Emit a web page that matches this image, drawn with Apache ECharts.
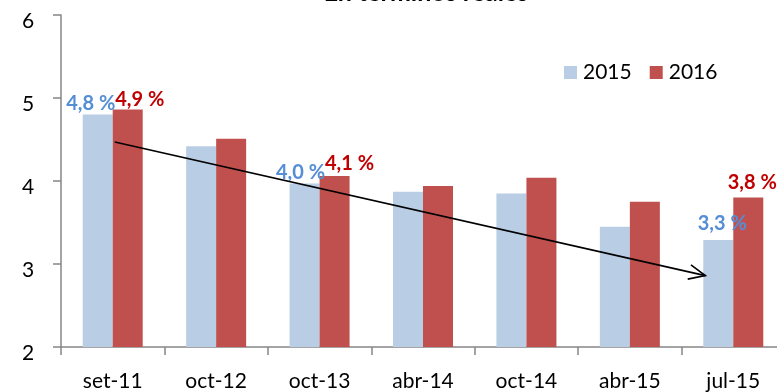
<!DOCTYPE html>
<html>
<head>
<meta charset="utf-8">
<script src="https://cdn.jsdelivr.net/npm/echarts@6/dist/echarts.min.js"></script>
<style>
  html, body { margin: 0; padding: 0; background: #fff; overflow: hidden; }
  #chart { width: 777px; height: 392px; }
</style>
</head>
<body>
<div id="chart"></div>
<script>
// Period categories and yearly values (%)
const categories = ['set-11', 'oct-12', 'oct-13', 'abr-14', 'oct-14', 'abr-15', 'jul-15'];
const values2015 = [4.80, 4.42, 3.97, 3.87, 3.85, 3.45, 3.29];
const values2016 = [4.86, 4.51, 4.06, 3.94, 4.04, 3.75, 3.80];
const seriesNames = ['2015', '2016'];
const yTicks = [2, 3, 4, 5, 6];

// Trend arrow endpoints: [position along the category band, value]
const arrowStart = [0.52, 4.47];
const arrowEnd = [6.23, 2.86];

// Which bars carry a value label, and how each label is nudged
const labelled2015 = { 0: [-7, -1], 2: [-4, -1], 6: [4, -6] };
const labelled2016 = { 0: [12, 0], 2: [15, -2], 6: [4, -5] };

const FONT = 'Lato';
const fmt = v => v.toFixed(1).replace('.', ',') + ' %';

function buildData(values, labelled, color) {
  return values.map((v, i) => {
    const off = labelled[i];
    if (!off) return v;
    return {
      value: v,
      label: {
        show: true,
        position: 'top',
        distance: 0,
        offset: off,
        color: color,
        fontFamily: FONT,
        fontWeight: 'bold',
        fontSize: 20,
        formatter: p => fmt(p.value)
      }
    };
  });
}

const chart = echarts.init(document.getElementById('chart'), null, { renderer: 'canvas' });

chart.setOption({
  animation: false,
  backgroundColor: '#ffffff',
  title: {
    text: 'En términos reales',
    left: 421,
    textAlign: 'center',
    top: -25,
    textStyle: { fontFamily: FONT, fontSize: 25, fontWeight: 'bold', color: '#000' }
  },
  legend: {
    data: seriesNames,
    left: 559,
    top: 57,
    itemWidth: 13,
    itemHeight: 13,
    itemGap: 18,
    icon: 'rect',
    textStyle: { fontFamily: FONT, fontSize: 21, color: '#000', padding: [0, 0, 0, 1] }
  },
  // The plot runs past the right edge, so its last boundary tick is cut off
  grid: { left: 61, top: 15, width: 724, height: 332, containLabel: false, outerBoundsMode: 'none' },
  xAxis: [{
    type: 'category',
    data: categories,
    axisLine: { lineStyle: { color: '#868686', width: 1.5 } },
    axisTick: { show: true, length: 8, lineStyle: { color: '#868686', width: 1.5 } },
    axisLabel: { margin: 24, fontFamily: FONT, fontSize: 21, color: '#000' },
    splitLine: { show: false }
  }, {
    type: 'value',
    min: 0,
    max: categories.length,
    show: false
  }],
  yAxis: {
    type: 'value',
    min: yTicks[0],
    max: yTicks[yTicks.length - 1],
    interval: 1,
    axisLine: { show: true, lineStyle: { color: '#868686', width: 1.5 } },
    axisTick: { show: true, length: 8, lineStyle: { color: '#868686', width: 1.5 } },
    axisLabel: {
      margin: 39, fontFamily: FONT, fontSize: 21, color: '#000',
      align: 'left', verticalAlign: 'top', lineHeight: 13
    },
    splitLine: { show: false }
  },
  series: [{
    name: seriesNames[0],
    type: 'bar',
    barWidth: 30,
    barGap: '0%',
    itemStyle: { color: '#B9CDE5' },
    data: buildData(values2015, labelled2015, '#558ED5')
  }, {
    name: seriesNames[1],
    type: 'bar',
    barWidth: 30,
    barGap: '0%',
    itemStyle: { color: '#C0504D' },
    data: buildData(values2016, labelled2016, '#C00000')
  }, {
    // Trend arrow drawn through the axes' own coordinate mapping
    type: 'custom',
    xAxisIndex: 1,
    yAxisIndex: 0,
    silent: true,
    z: 10,
    data: [[arrowStart[0], arrowStart[1], arrowEnd[0], arrowEnd[1]]],
    renderItem: function (params, api) {
      const p0 = api.coord([api.value(0), api.value(1)]);
      const p1 = api.coord([api.value(2), api.value(3)]);
      const ang = Math.atan2(p1[1] - p0[1], p1[0] - p0[0]);
      const len = 18, spread = 0.42;
      const h1 = [p1[0] - len * Math.cos(ang - spread), p1[1] - len * Math.sin(ang - spread)];
      const h2 = [p1[0] - len * Math.cos(ang + spread), p1[1] - len * Math.sin(ang + spread)];
      const style = { stroke: '#000', lineWidth: 1.6, fill: null };
      return {
        type: 'group',
        children: [
          { type: 'line', shape: { x1: p0[0], y1: p0[1], x2: p1[0], y2: p1[1] }, style: style },
          { type: 'polyline', shape: { points: [h1, p1, h2] }, style: style }
        ]
      };
    }
  }]
});
</script>
</body>
</html>
